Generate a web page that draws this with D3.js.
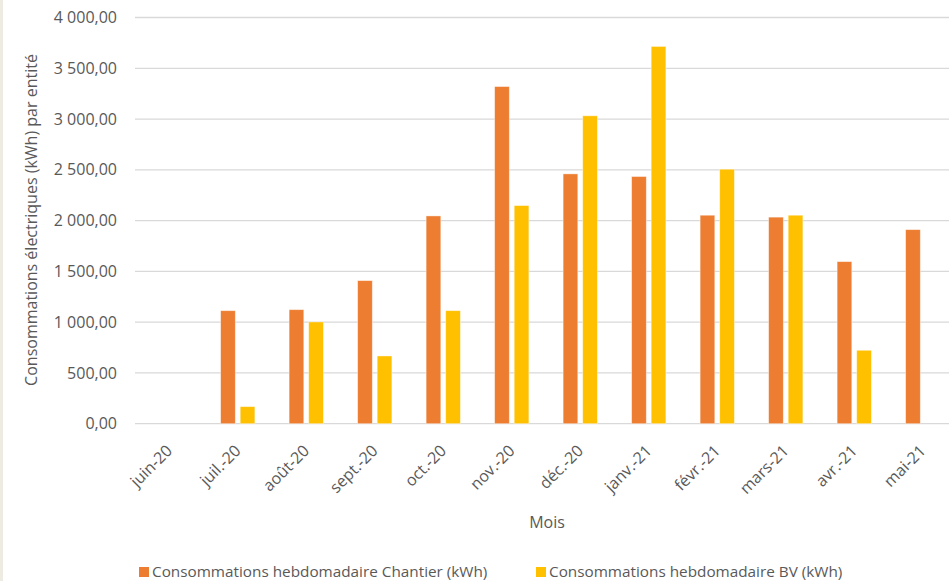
<!DOCTYPE html>
<html>
<head>
<meta charset="utf-8">
<script src="https://cdn.jsdelivr.net/npm/d3@7"></script>
<style>
  body { margin: 0; background: #fff; }
  text { font-family: "Open Sans", sans-serif; fill: #595959; }
</style>
</head>
<body>
<div id="chart"></div>
<script>
// Data
const months = ["juin-20", "juil.-20", "août-20", "sept.-20", "oct.-20", "nov.-20",
                "déc.-20", "janv.-21", "févr.-21", "mars-21", "avr.-21", "mai-21"];
const chantier = [null, 1113, 1123, 1409, 2046, 3320, 2460, 2434, 2053, 2034, 1596, 1911];
const bv = [null, 168, 1002, 667, 1113, 2148, 3032, 3715, 2506, 2053, 723, null];
const seriesNames = ["Consommations hebdomadaire Chantier (kWh)", "Consommations hebdomadaire BV (kWh)"];
const yTicks = [0, 500, 1000, 1500, 2000, 2500, 3000, 3500, 4000];

const width = 949, height = 581;
const colors = ["#ED7D31", "#FFC000"];

// Plot area (right side runs past the window, as in the reference)
const plotLeft = 135, plotRight = 957, plotTop = 17.5, plotBottom = 423.7;

const fr = d3.formatLocale({ decimal: ",", thousands: "\u00a0", grouping: [3], currency: ["", " €"] });
const fmt = fr.format(",.2f");

const svg = d3.select("#chart").append("svg")
    .attr("width", width)
    .attr("height", height);

svg.append("rect").attr("width", width).attr("height", height).attr("fill", "#fff");
// thin beige margin on the left edge
svg.append("rect").attr("x", 0).attr("y", 0).attr("width", 3).attr("height", height).attr("fill", "#eeebe2");

const x0 = d3.scaleBand()
    .domain(months)
    .range([plotLeft, plotRight])
    .paddingInner(0.5)
    .paddingOuter(0.25);

const x1 = d3.scaleBand()
    .domain([0, 1])
    .range([0, x0.bandwidth()])
    .paddingInner(0.25);

const y = d3.scaleLinear()
    .domain([0, 4000])
    .range([plotBottom, plotTop]);

// Gridlines
svg.append("g")
    .selectAll("line")
    .data(yTicks)
    .enter()
    .append("line")
    .attr("x1", plotLeft)
    .attr("x2", width)
    .attr("y1", d => y(d))
    .attr("y2", d => y(d))
    .style("stroke", "#d9d9d9")
    .style("stroke-width", 1.3);

// Y tick labels
svg.append("g")
    .selectAll("text")
    .data(yTicks)
    .enter()
    .append("text")
    .attr("x", 117)
    .attr("y", d => y(d))
    .attr("dy", "0.35em")
    .attr("text-anchor", "end")
    .style("font-size", "16px")
    .text(d => fmt(d));

// Bars
const rows = months.map((m, i) => ({ month: m, values: [chantier[i], bv[i]] }));

const groups = svg.append("g")
    .selectAll("g")
    .data(rows)
    .enter()
    .append("g")
    .attr("transform", d => `translate(${x0(d.month)},0)`);

groups.selectAll("rect")
    .data(d => d.values.map((v, k) => ({ k: k, v: v })).filter(d => d.v != null))
    .enter()
    .append("rect")
    .attr("x", d => x1(d.k))
    .attr("width", x1.bandwidth())
    .attr("y", d => y(d.v))
    .attr("height", d => y(0) - y(d.v))
    .attr("fill", d => colors[d.k])
    .style("stroke", "#fff")
    .style("stroke-opacity", 0.5)
    .style("stroke-width", 0.8);

// X labels, rotated
svg.append("g")
    .selectAll("text")
    .data(months)
    .enter()
    .append("text")
    .attr("transform", d => `translate(${x0(d) + x0.bandwidth() / 2 + 4},${plotBottom + 28}) rotate(-45)`)
    .attr("text-anchor", "end")
    .style("font-size", "16px")
    .text(d => d);

// Axis titles
svg.append("text")
    .attr("x", 547)
    .attr("y", 528)
    .attr("text-anchor", "middle")
    .style("font-size", "16px")
    .text("Mois");

svg.append("text")
    .attr("transform", "translate(37,220) rotate(-90)")
    .attr("text-anchor", "middle")
    .style("font-size", "16px")
    .text("Consommations électriques (kWh) par entité");

// Legend
const legendX = [139, 536];
const legend = svg.append("g")
    .selectAll("g")
    .data(seriesNames)
    .enter()
    .append("g")
    .attr("transform", (d, i) => `translate(${legendX[i]},567)`);

legend.append("rect")
    .attr("width", 10)
    .attr("height", 10)
    .attr("fill", (d, i) => colors[i]);

legend.append("text")
    .attr("x", 13)
    .attr("y", 10)
    .style("font-size", "15.3px")
    .text(d => d);
</script>
</body>
</html>
